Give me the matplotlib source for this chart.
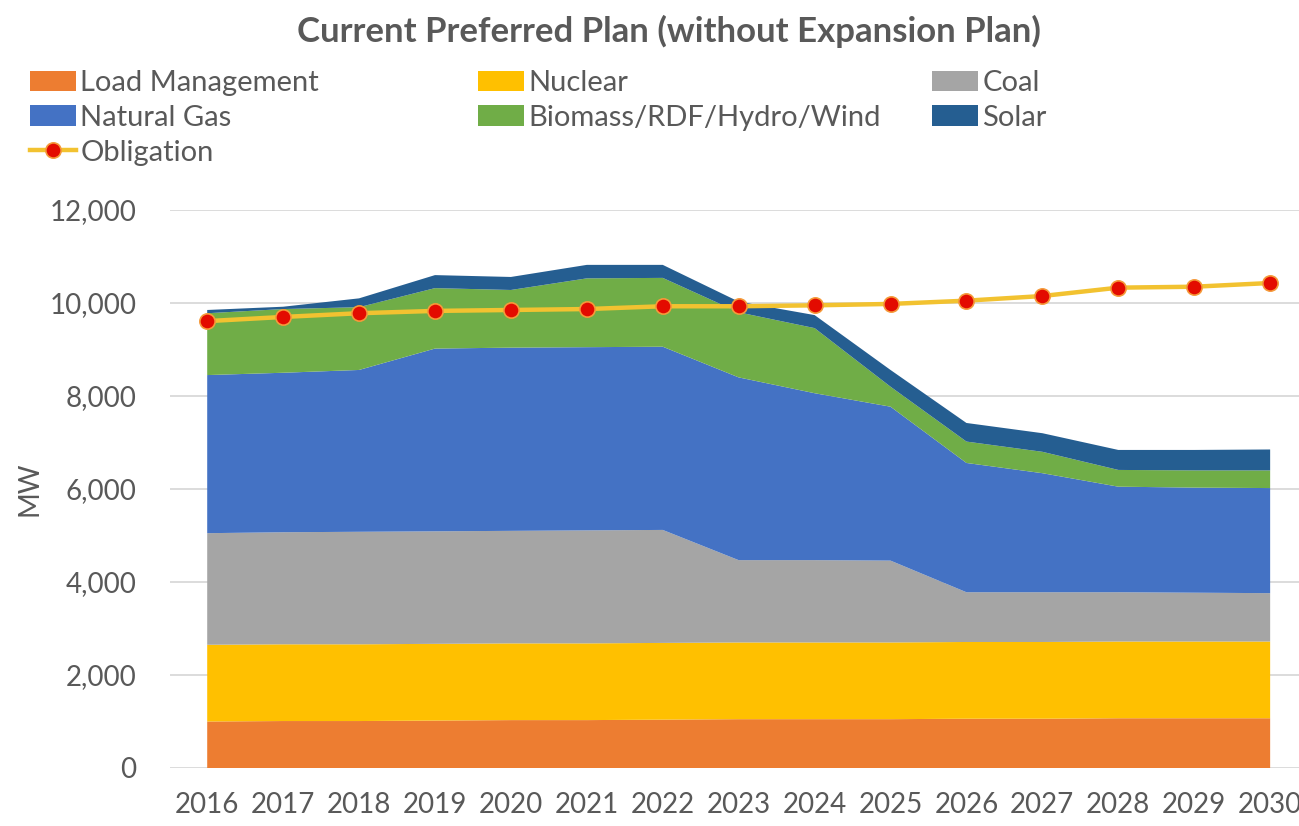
import numpy as np
import matplotlib
matplotlib.use("Agg")
import matplotlib.pyplot as plt
from matplotlib.ticker import FuncFormatter

plt.rcParams['font.family'] = ['Lato', 'DejaVu Sans']

years = list(range(2016, 2031))

# MW by resource, stacked bottom to top
load_mgmt = [1000, 1010, 1010, 1020, 1030, 1030, 1040, 1050, 1050, 1050, 1060, 1060, 1070, 1070, 1070]
nuclear = [1650, 1650, 1650, 1650, 1650, 1650, 1650, 1650, 1650, 1650, 1650, 1650, 1650, 1650, 1650]
coal = [2400, 2410, 2420, 2420, 2420, 2430, 2430, 1770, 1770, 1760, 1070, 1070, 1060, 1050, 1040]
natural_gas = [3400, 3430, 3480, 3930, 3940, 3940, 3940, 3930, 3590, 3310, 2780, 2560, 2270, 2260, 2260]
biomass = [1330, 1370, 1350, 1300, 1240, 1480, 1480, 1400, 1400, 430, 460, 460, 360, 370, 380]
solar = [70, 50, 190, 280, 280, 290, 280, 230, 280, 360, 400, 400, 430, 440, 450]
obligation = [9610, 9700, 9780, 9830, 9850, 9870, 9930, 9930, 9950, 9980, 10050, 10150, 10330, 10350, 10430]

labels = ['Load Management', 'Nuclear', 'Coal', 'Natural Gas',
          'Biomass/RDF/Hydro/Wind', 'Solar']
colors = ['#ED7D31', '#FFC000', '#A5A5A5', '#4472C4', '#70AD47', '#255E91']
txt = '#595959'

fig = plt.figure(figsize=(12.99, 8.26), dpi=100)
ax = fig.add_axes([170 / 1299, 58 / 826, 1 - 170 / 1299, 558 / 826])

polys = ax.stackplot(years, load_mgmt, nuclear, coal, natural_gas, biomass, solar,
                     colors=colors, labels=labels, linewidth=0)
line, = ax.plot(years, obligation, color='#F2C230', lw=3.2, marker='o',
                markersize=11, markerfacecolor='#E30B00', markeredgecolor='#F59A3A',
                markeredgewidth=1.2, label='Obligation', zorder=5)

ax.set_xlim(2015.51, 2030.38)
ax.set_ylim(0, 12000)
ax.set_yticks(range(0, 12001, 2000))
ax.yaxis.set_major_formatter(FuncFormatter(lambda v, p: f'{int(v):,}'))
ax.set_xticks(years)
ax.grid(axis='y', color='#D9D9D9', lw=1.3)
ax.set_axisbelow(True)
for s in ax.spines.values():
    s.set_visible(False)
ax.tick_params(length=0, labelsize=20, labelcolor=txt)
ax.tick_params(axis='x', pad=17.5)
ax.tick_params(axis='y', pad=24)
ax.set_ylabel('MW', fontsize=20, color=txt, labelpad=5)

fig.text(0.515, 0.962, 'Current Preferred Plan (without Expansion Plan)',
         ha='center', va='center', fontsize=25, fontweight='bold', color=txt)

# three legend columns, row-major like the spreadsheet legend
cols = [
    ([polys[0], polys[3], line], [labels[0], labels[3], 'Obligation'], 30),
    ([polys[1], polys[4]], [labels[1], labels[4]], 478),
    ([polys[2], polys[5]], [labels[2], labels[5]], 932),
]
for handles, names, x0 in cols:
    leg = fig.legend(handles, names, loc='upper left',
                     bbox_to_anchor=(x0 / 1299, 1 - 70 / 826), frameon=False,
                     fontsize=21, labelcolor=txt, handlelength=1.58,
                     handleheight=0.7, handletextpad=0.15, labelspacing=0.3,
                     borderaxespad=0, borderpad=0)

fig.savefig('out.png', dpi=100)
